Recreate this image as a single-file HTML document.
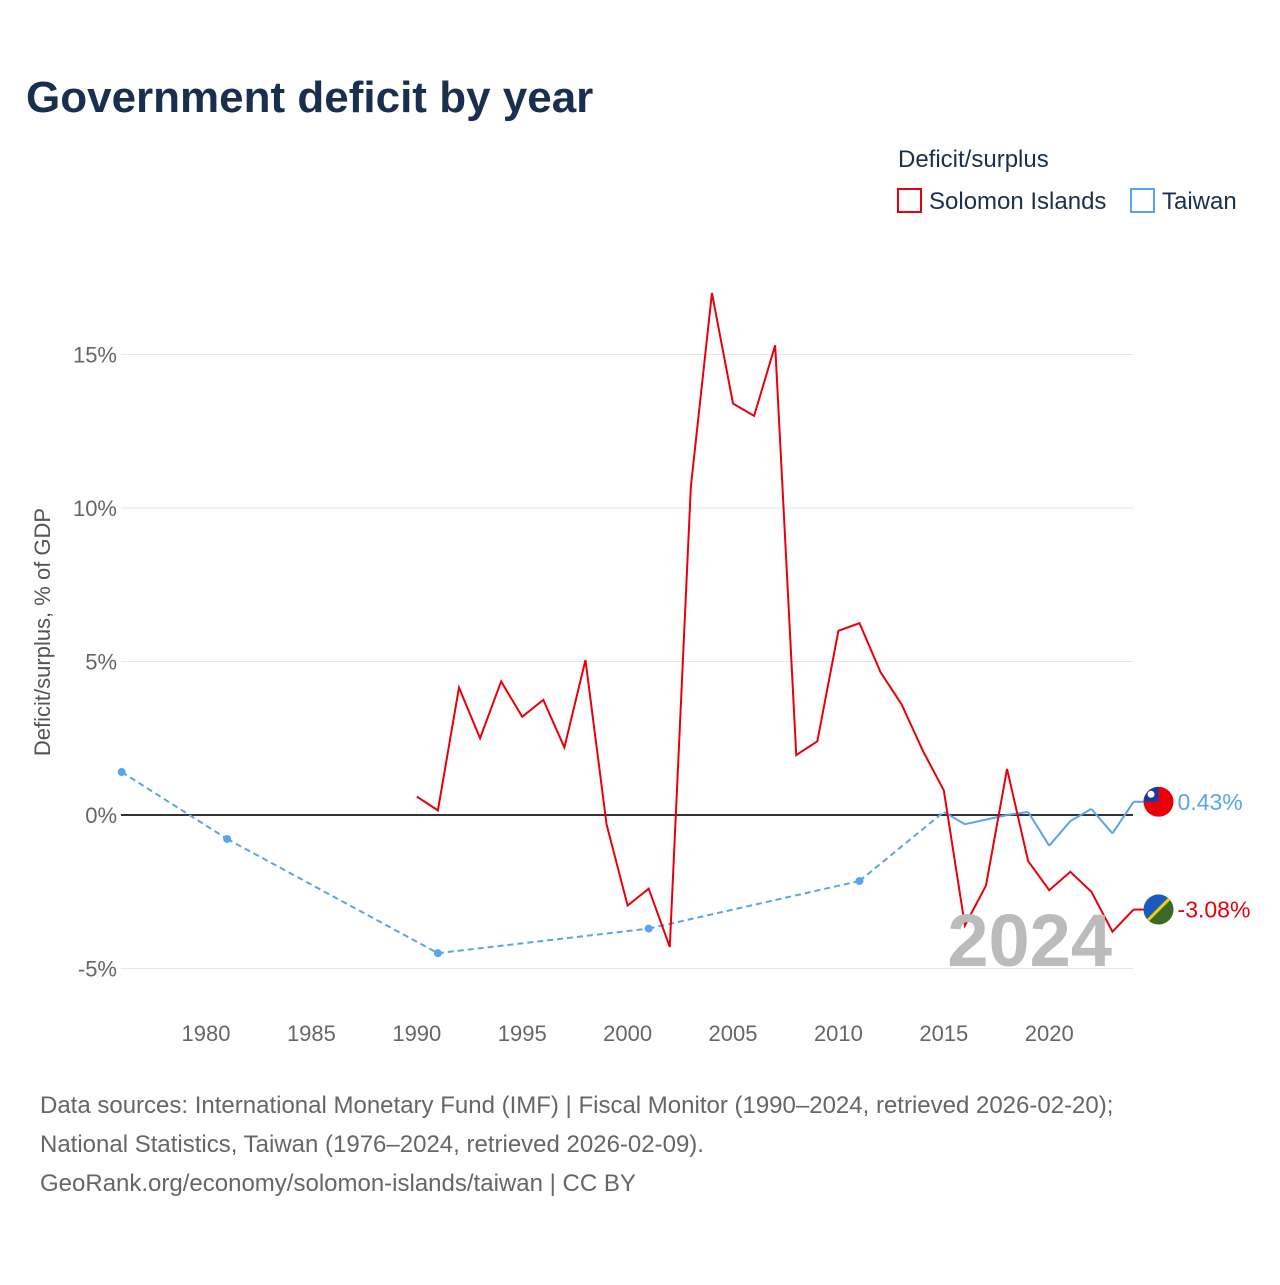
<!DOCTYPE html>
<html><head><meta charset="utf-8"><style>
body{margin:0;background:#fff;width:1280px;height:1280px;overflow:hidden;font-family:"Liberation Sans",sans-serif}
svg text{font-family:"Liberation Sans",sans-serif}
</style></head><body>
<svg id="chart" width="1280" height="1280">
<defs><clipPath id="cTw"><circle id="cTwC" r="15"/></clipPath><clipPath id="cSo"><circle id="cSoC" r="15"/></clipPath></defs>
<text x="26" y="112" font-size="44" font-weight="bold" fill="#1a2f50">Government deficit by year</text>
<text x="898" y="167" font-size="24" fill="#1a2f50">Deficit/surplus</text>
<g><rect x="898" y="189" width="23" height="23" fill="none" stroke="#e8000b" stroke-width="2"/><text x="929" y="209" font-size="24" fill="#1a2f50">Solomon Islands</text></g>
<g><rect x="1131" y="189" width="23" height="23" fill="none" stroke="#5aa5ea" stroke-width="2"/><text x="1162" y="209" font-size="24" fill="#1a2f50">Taiwan</text></g>
<text transform="translate(50,632) rotate(-90)" text-anchor="middle" font-size="22" fill="#555">Deficit/surplus, % of GDP</text>
<g id="grid"></g><g id="plot"></g>
<text x="1112" y="966" text-anchor="end" font-size="74" font-weight="bold" fill="#bbb">2024</text>
<g id="overlay"></g>
<text font-size="24" fill="#666"><tspan x="40" y="1113">Data sources: International Monetary Fund (IMF) | Fiscal Monitor (1990–2024, retrieved 2026-02-20);</tspan><tspan x="40" y="1152">National Statistics, Taiwan (1976–2024, retrieved 2026-02-09).</tspan><tspan x="40" y="1191">GeoRank.org/economy/solomon-islands/taiwan | CC BY</tspan></text>
</svg>
<script>
const yTicks=[-5,0,5,10,15];
const xTicks=[1980,1985,1990,1995,2000,2005,2010,2015,2020];
const solYears=[1990,1991,1992,1993,1994,1995,1996,1997,1998,1999,2000,2001,2002,2003,2004,2005,2006,2007,2008,2009,2010,2011,2012,2013,2014,2015,2016,2017,2018,2019,2020,2021,2022,2023,2024];
const solVals=[0.6,0.15,4.15,2.5,4.35,3.2,3.75,2.2,5.05,-0.3,-2.95,-2.4,-4.3,10.7,17.0,13.4,13.0,15.3,1.95,2.4,6.0,6.25,4.65,3.6,2.1,0.8,-3.6,-2.3,1.5,-1.5,-2.45,-1.85,-2.5,-3.8,-3.08];
const twYears=[1976,1981,1991,2001,2011,2015,2016,2017,2018,2019,2020,2021,2022,2023,2024];
const twVals=[1.4,-0.78,-4.5,-3.7,-2.15,0.1,-0.3,-0.15,0.0,0.1,-1.0,-0.2,0.2,-0.6,0.43];
const X=y=>121.7+(y-1976)*21.08, Y=v=>815-v*30.7;
const NS="http://www.w3.org/2000/svg";
function mk(tag,attrs,parent){const e=document.createElementNS(NS,tag);for(const k in attrs)e.setAttribute(k,attrs[k]);parent.appendChild(e);return e;}
const grid=document.getElementById('grid'),plot=document.getElementById('plot'),ov=document.getElementById('overlay');
yTicks.forEach(t=>{
 const l=mk('line',{x1:121,x2:1133,y1:Y(t),y2:Y(t),stroke:t===0?'#333':'#e6e6e6','stroke-width':t===0?2:1},grid);
 
 
 const tx=mk('text',{x:117,y:Y(t)+8,'text-anchor':'end','font-size':22,fill:'#666'},grid);tx.textContent=t+'%';
 
 
});
xTicks.forEach(t=>{
 const tx=mk('text',{x:X(t),y:1041,'text-anchor':'middle','font-size':22,fill:'#666'},grid);tx.textContent=t;
 
 
});
for(let i=1;i<twYears.length;i++){
 const gap=twYears[i]-twYears[i-1]>1;
 const s=mk('line',{x1:X(twYears[i-1]),y1:Y(twVals[i-1]),x2:X(twYears[i]),y2:Y(twVals[i]),stroke:'#5aa5ea','stroke-width':2,'stroke-dasharray':gap?'6,4':'none'},plot);
 
 
}
for(let i=0;i<twYears.length;i++){
 const isolated=(i===0||twYears[i]-twYears[i-1]>1)&&(i===twYears.length-1||twYears[i+1]-twYears[i]>1);
 if(isolated){const c=mk('circle',{cx:X(twYears[i]),cy:Y(twVals[i]),r:4,fill:'#5aa5ea'},plot);
 
 }
}
const sp=mk('polyline',{points:solYears.map((y,i)=>X(y)+','+Y(solVals[i])).join(' '),fill:'none',stroke:'#e8000b','stroke-width':2},plot);


function endLabel(val,col,name,isTw){
 const y=Y(val),x=X(2024),cx=x+25;
 const cc=document.getElementById(isTw?'cTwC':'cSoC');cc.setAttribute('cx',cx);cc.setAttribute('cy',y);
 const l=mk('line',{x1:x,y1:y,x2:x+10,y2:y,stroke:col,'stroke-width':2},ov);
 
 
 const g=mk('g',{'clip-path':isTw?'url(#cTw)':'url(#cSo)'},ov);
 
 
 mk('rect',{x:cx-15,y:y-15,width:30,height:30,fill:isTw?'#e8000b':'#3a6a2a'},g);
 if(isTw){mk('rect',{x:cx-15,y:y-15,width:15,height:15,fill:'#1a3aa0'},g);mk('circle',{cx:cx-7.5,cy:y-7.5,r:3.5,fill:'#fff'},g);}
 else{mk('polygon',{points:`${cx-15},${y-15} ${cx+15},${y-15} ${cx-15},${y+15}`,fill:'#1a5ac0'},g);
  mk('line',{x1:cx-15,y1:y+15,x2:cx+15,y2:y-15,stroke:'#f0d000','stroke-width':3},g);}
 const t=mk('text',{x:x+44,y:y+8,'font-size':23,fill:col},ov);t.textContent=val.toFixed(2)+'%';
 
 
}
endLabel(twVals[twVals.length-1],'#5aa5ea','taiwan',true);
endLabel(solVals[solVals.length-1],'#e8000b','solomon-islands',false);
</script>
</body></html>
